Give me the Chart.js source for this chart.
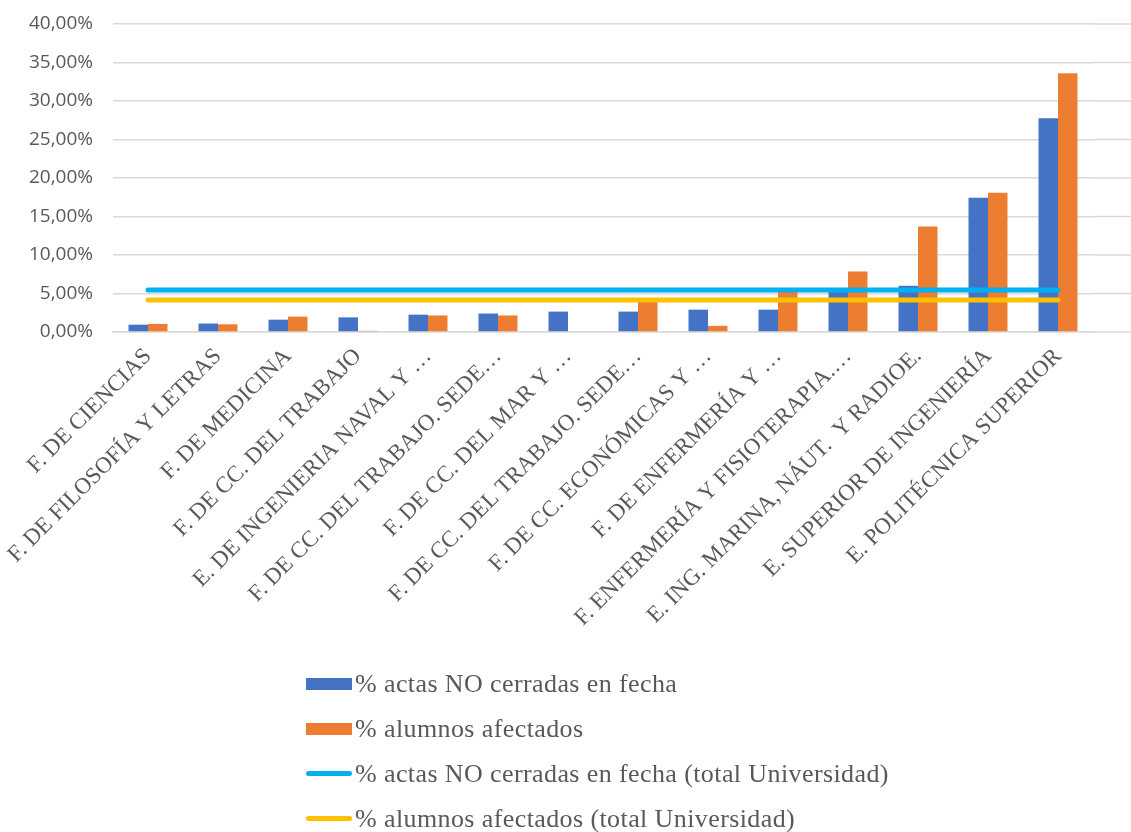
<!DOCTYPE html>
<html>
<head>
<meta charset="utf-8">
<script src="https://cdn.jsdelivr.net/npm/chart.js@4.4.1/dist/chart.umd.min.js"></script>
<style>
  body { margin: 0; background: #fff; }
  #wrap { position: relative; width: 1131px; height: 832px; }
  #legend { position: absolute; left: 306px; top: 661px; font-family: "Liberation Serif", serif; font-size: 26px; letter-spacing: 0.4px; color: #595959; }
  .item { height: 45px; display: flex; align-items: center; }
  .sw { width: 46px; margin-right: 3px; }
</style>
</head>
<body>
<div id="wrap">
  <canvas id="chart" width="1131" height="832"></canvas>
  <div id="legend"></div>
</div>
<script>
const labels = [
  "F. DE CIENCIAS",
  "F. DE FILOSOFÍA Y LETRAS",
  "F. DE MEDICINA",
  "F. DE CC. DEL TRABAJO",
  "E. DE INGENIERIA NAVAL Y …",
  "F. DE CC. DEL TRABAJO. SEDE…",
  "F. DE CC. DEL MAR Y …",
  "F. DE CC. DEL TRABAJO. SEDE…",
  "F. DE CC. ECONÓMICAS Y …",
  "F. DE ENFERMERÍA Y …",
  "F. ENFERMERÍA Y FISIOTERAPIA.…",
  "E. ING. MARINA, NÁUT.  Y RADIOE.",
  "E. SUPERIOR DE INGENIERÍA",
  "E. POLITÉCNICA SUPERIOR"
];
const actasNoCerradas = [0.95, 1.1, 1.6, 1.9, 2.25, 2.4, 2.65, 2.65, 2.9, 2.9, 5.6, 6.0, 17.45, 27.75];
const alumnosAfectados = [1.05, 1.0, 2.0, 0.15, 2.15, 2.15, 0, 3.9, 0.8, 5.3, 7.85, 13.7, 18.1, 33.6];
const totalActas = 5.45;
const totalAlumnos = 4.15;
const yTicks = [0, 5, 10, 15, 20, 25, 30, 35, 40];

const seriesNames = [
  "% actas NO cerradas en fecha",
  "% alumnos afectados",
  "% actas NO cerradas en fecha (total Universidad)",
  "% alumnos afectados (total Universidad)"
];
const colors = ["#4472C4", "#ED7D31", "#00B0F0", "#FFC000"];
const gridColor = "#d9d9d9";

// extend horizontal gridlines to the right edge like the original
const gridExtend = {
  id: 'gridExtend',
  beforeDatasetsDraw(chart) {
    const c = chart.ctx, y = chart.scales.y, area = chart.chartArea;
    c.save();
    c.strokeStyle = gridColor;
    c.lineWidth = 1.5;
    yTicks.forEach(v => {
      const py = y.getPixelForValue(v);
      c.beginPath();
      c.moveTo(area.right, py);
      c.lineTo(chart.width, py);
      c.stroke();
    });
    c.restore();
  }
};

const ctx = document.getElementById('chart').getContext('2d');
const chart = new Chart(ctx, {
  type: 'bar',
  data: {
    labels: labels,
    datasets: [
      { label: seriesNames[0], data: actasNoCerradas, backgroundColor: colors[0], order: 2,
        categoryPercentage: 0.557, barPercentage: 1 },
      { label: seriesNames[1], data: alumnosAfectados, backgroundColor: colors[1], order: 2,
        categoryPercentage: 0.557, barPercentage: 1 },
      { type: 'line', label: seriesNames[2], data: labels.map(() => totalActas), borderColor: colors[2],
        borderWidth: 5, borderCapStyle: 'round', pointRadius: 0, order: 0 },
      { type: 'line', label: seriesNames[3], data: labels.map(() => totalAlumnos), borderColor: colors[3],
        borderWidth: 5, borderCapStyle: 'round', pointRadius: 0, order: 0 }
    ]
  },
  options: {
    responsive: false,
    animation: false,
    layout: { padding: { left: 0, right: 38, top: 24, bottom: 192 } },
    plugins: {
      legend: { display: false },
      tooltip: { enabled: false }
    },
    scales: {
      x: {
        grid: { display: false },
        border: { color: gridColor, width: 1.5 },
        ticks: {
          autoSkip: false,
          minRotation: 45,
          maxRotation: 45,
          color: '#595959',
          font: { family: '"Liberation Serif", serif', size: 23 }
        },
        afterFit(scale) { scale.height = 308; scale.paddingTop = 0; }
      },
      y: {
        min: 0,
        max: 40,
        afterBuildTicks(scale) { scale.ticks = yTicks.map(v => ({ value: v })); },
        grid: { color: gridColor, lineWidth: 1.5, drawTicks: false },
        border: { display: false },
        ticks: {
          padding: 20,
          color: '#595959',
          font: { family: '"Open Sans", sans-serif', size: 19 },
          callback: v => v.toFixed(2).replace('.', ',') + '%'
        },
        afterFit(scale) { scale.width = 113; scale.paddingTop = 10; }
      }
    }
  },
  plugins: [gridExtend]
});

// legend as a vertical list under the chart
const legend = document.getElementById('legend');
seriesNames.forEach((name, i) => {
  const item = document.createElement('div');
  item.className = 'item';
  const sw = document.createElement('div');
  sw.className = 'sw';
  sw.style.background = colors[i];
  if (i < 2) { sw.style.height = '12px'; }
  else { sw.style.height = '5px'; sw.style.borderRadius = '3px'; }
  const txt = document.createElement('span');
  txt.textContent = name;
  item.appendChild(sw);
  item.appendChild(txt);
  legend.appendChild(item);
});
</script>
</body>
</html>
